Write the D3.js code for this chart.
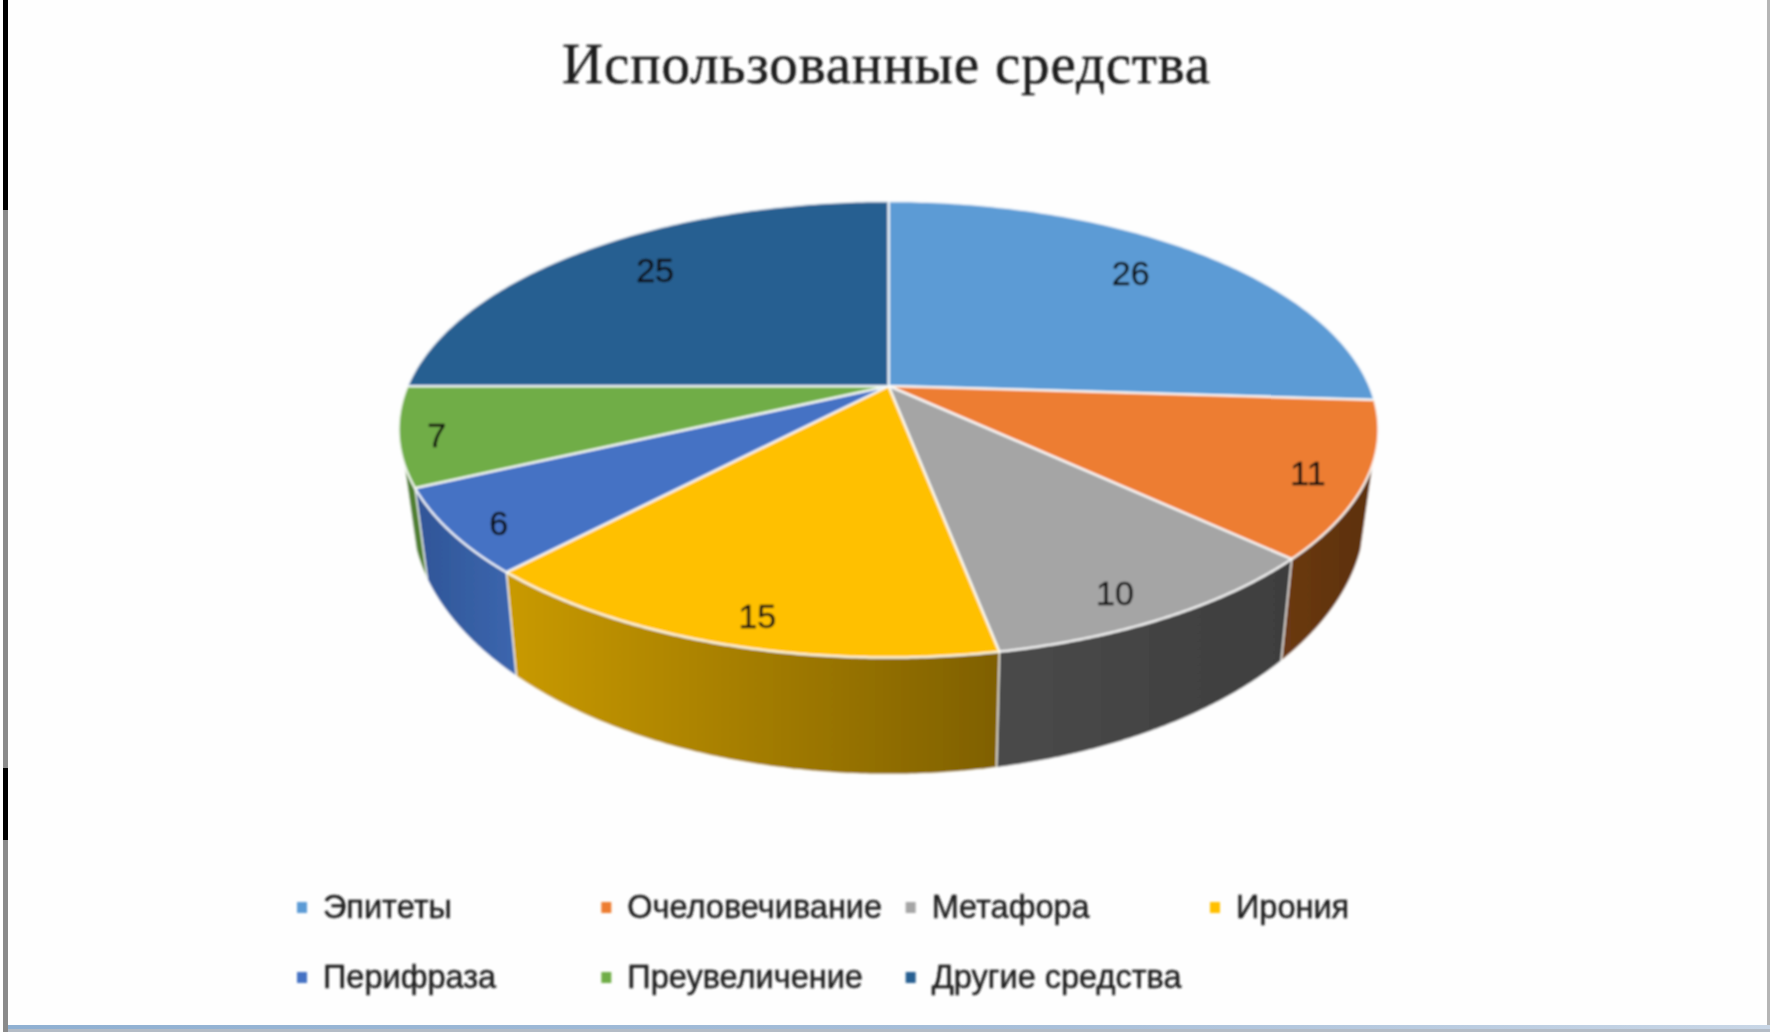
<!DOCTYPE html>
<html>
<head>
<meta charset="utf-8">
<script src="https://cdn.jsdelivr.net/npm/d3@7"></script>
<style>
  html, body { margin: 0; padding: 0; background: #fff; overflow: hidden; }
  #chart { width: 1770px; height: 1032px; }
  svg { display: block; }
  .title { font-family: "Liberation Serif", serif; font-size: 57px; fill: #1c1c1c; stroke: #1c1c1c; stroke-width: 0.4; text-anchor: middle; }
  .legendText { font-family: "Liberation Sans", sans-serif; font-size: 32.5px; fill: #1c1c1c; stroke: #1c1c1c; stroke-width: 0.4; }
  .sliceLabel { font-family: "Liberation Sans", sans-serif; font-size: 34px; fill: #111; stroke: #111; stroke-width: 0.4; text-anchor: middle; dominant-baseline: middle; }
</style>
</head>
<body>
<div id="chart"></div>
<script>
var titleText = "Использованные средства";
var categories = ["Эпитеты", "Очеловечивание", "Метафора", "Ирония", "Перифраза", "Преувеличение", "Другие средства"];
var values = [26, 11, 10, 15, 6, 7, 25];
var topColors = ["#5b9bd5", "#ed7d31", "#a5a5a5", "#ffc000", "#4472c4", "#70ad47", "#255e91"];
var wallLeft = ["#3a6a96", "#6b3a12", "#4a4a4a", "#c99a00", "#2f5597", "#4f7f30", "#1a4266"];
var wallRight = ["#3a6a96", "#5c3010", "#3e3e3e", "#7f6000", "#3c66ae", "#4f7f30", "#1a4266"];

var width = 1770;
var height = 1032;

var svg = d3.select("#chart")
  .append("svg")
  .attr("width", width)
  .attr("height", height);

var defs = svg.append("defs");

defs.append("filter").attr("id", "soft")
  .attr("filterUnits", "userSpaceOnUse")
  .attr("x", 0).attr("y", 0).attr("width", width).attr("height", height)
  .append("feGaussianBlur").attr("stdDeviation", 0.8);

// the frame of the screenshot
svg.append("rect").attr("width", width).attr("height", height).attr("fill", "#fefefe");
svg.append("rect").attr("x", 3).attr("y", 0).attr("width", 5).attr("height", height).attr("fill", "#8a8a8a");
svg.append("rect").attr("x", 3).attr("y", 0).attr("width", 5).attr("height", 210).attr("fill", "#000");
svg.append("rect").attr("x", 3).attr("y", 768).attr("width", 5).attr("height", 72).attr("fill", "#000");
svg.append("rect").attr("x", 1767).attr("y", 0).attr("width", 3).attr("height", height).attr("fill", "#b5b5b5");

var barGrad = defs.append("linearGradient").attr("id", "barGrad");
barGrad.append("stop").attr("offset", "0%").attr("stop-color", "#8fb0d2");
barGrad.append("stop").attr("offset", "60%").attr("stop-color", "#a9c0da");
barGrad.append("stop").attr("offset", "100%").attr("stop-color", "#c8d6e6");
svg.append("rect").attr("x", 8).attr("y", 1025).attr("width", width - 8).attr("height", 4).attr("fill", "url(#barGrad)");
svg.append("rect").attr("x", 8).attr("y", 1029).attr("width", width - 8).attr("height", 3).attr("fill", "#b4bcc6");

var chart = svg.append("g").attr("filter", "url(#soft)");

chart.append("text")
  .attr("class", "title")
  .attr("x", 886)
  .attr("y", 83)
  .attr("textLength", 648)
  .text(titleText);

// pie in perspective: p is the amount of foreshortening
var p = 0.19;
var sample = 120;

var xTop = d3.scaleLinear().domain([-1, 1]).range([407.5, 1369.5]);
var yTop = d3.scaleLinear().domain([-1, 1]).range([166, 606]);
var xBottom = d3.scaleLinear().domain([-1, 1]).range([420, 1357]);
var yBottom = d3.scaleLinear().domain([-1, 1]).range([209, 715]);

function project(angle, r, xs, ys) {
  var u = r * Math.sin(angle);
  var v = -r * Math.cos(angle);
  var w = 1 - p * v;
  return [xs(u / w), ys(v / w)];
}

function arcPoints(a0, a1, xs, ys) {
  return d3.range(sample + 1).map(function(i) {
    return project(a0 + (a1 - a0) * i / sample, 1, xs, ys);
  });
}

var pie = d3.pie().sort(null).value(function(d) { return d; });
var slices = pie(values);
var line = d3.line();

// only the front of the wall can be seen
var wallFrom = 109 * Math.PI / 180;
var wallTo = 251 * Math.PI / 180;

slices.forEach(function(d, i) {
  var a0 = Math.max(d.startAngle, wallFrom);
  var a1 = Math.min(d.endAngle, wallTo);
  if (a1 <= a0) return;

  var grad = defs.append("linearGradient").attr("id", "wall" + i);
  grad.append("stop").attr("offset", "0%").attr("stop-color", wallLeft[i]);
  grad.append("stop").attr("offset", "100%").attr("stop-color", wallRight[i]);

  var pts = arcPoints(a0, a1, xTop, yTop).concat(arcPoints(a1, a0, xBottom, yBottom));
  chart.append("path")
    .attr("d", line(pts) + "Z")
    .attr("fill", "url(#wall" + i + ")")
    .attr("stroke", "#fff")
    .attr("stroke-opacity", 0.75)
    .attr("stroke-width", 1.5);
});

// top face
slices.forEach(function(d, i) {
  var pts = [project(0, 0, xTop, yTop)].concat(arcPoints(d.startAngle, d.endAngle, xTop, yTop));
  chart.append("path")
    .attr("d", line(pts) + "Z")
    .attr("fill", topColors[i])
    .attr("stroke", "#fff")
    .attr("stroke-opacity", 0.8)
    .attr("stroke-width", 2.5)
    .attr("stroke-linejoin", "round");
});

// value labels, further out on the narrow slices
function labelRadius(v) {
  if (v >= 25) return 0.8;
  if (v >= 10) return 0.9;
  return 0.93;
}

var centerX = project(0, 0, xTop, yTop)[0];

slices.forEach(function(d) {
  var mid = (d.startAngle + d.endAngle) / 2;
  var pos = project(mid, labelRadius(d.value), xTop, yTop);
  var c = Math.cos(mid);
  chart.append("text")
    .attr("class", "sliceLabel")
    .attr("x", centerX + (pos[0] - centerX) * (1 - 0.1 * c * c))
    .attr("y", pos[1] + (c > 0 ? -1 : 6))
    .text(d.value);
});

// legend
var legendX = d3.scalePoint().domain(d3.range(4)).range([302, 1215]);
var legendY = d3.scalePoint().domain(d3.range(2)).range([907, 977]);

categories.forEach(function(name, i) {
  var col = i < 4 ? i : i - 4;
  var row = i < 4 ? 0 : 1;
  chart.append("rect")
    .attr("x", legendX(col) - 5)
    .attr("y", legendY(row) - 5)
    .attr("width", 10)
    .attr("height", 11)
    .attr("fill", topColors[i]);
  chart.append("text")
    .attr("class", "legendText")
    .attr("x", legendX(col) + 21)
    .attr("y", legendY(row) + 11)
    .text(name);
});
</script>
</body>
</html>
